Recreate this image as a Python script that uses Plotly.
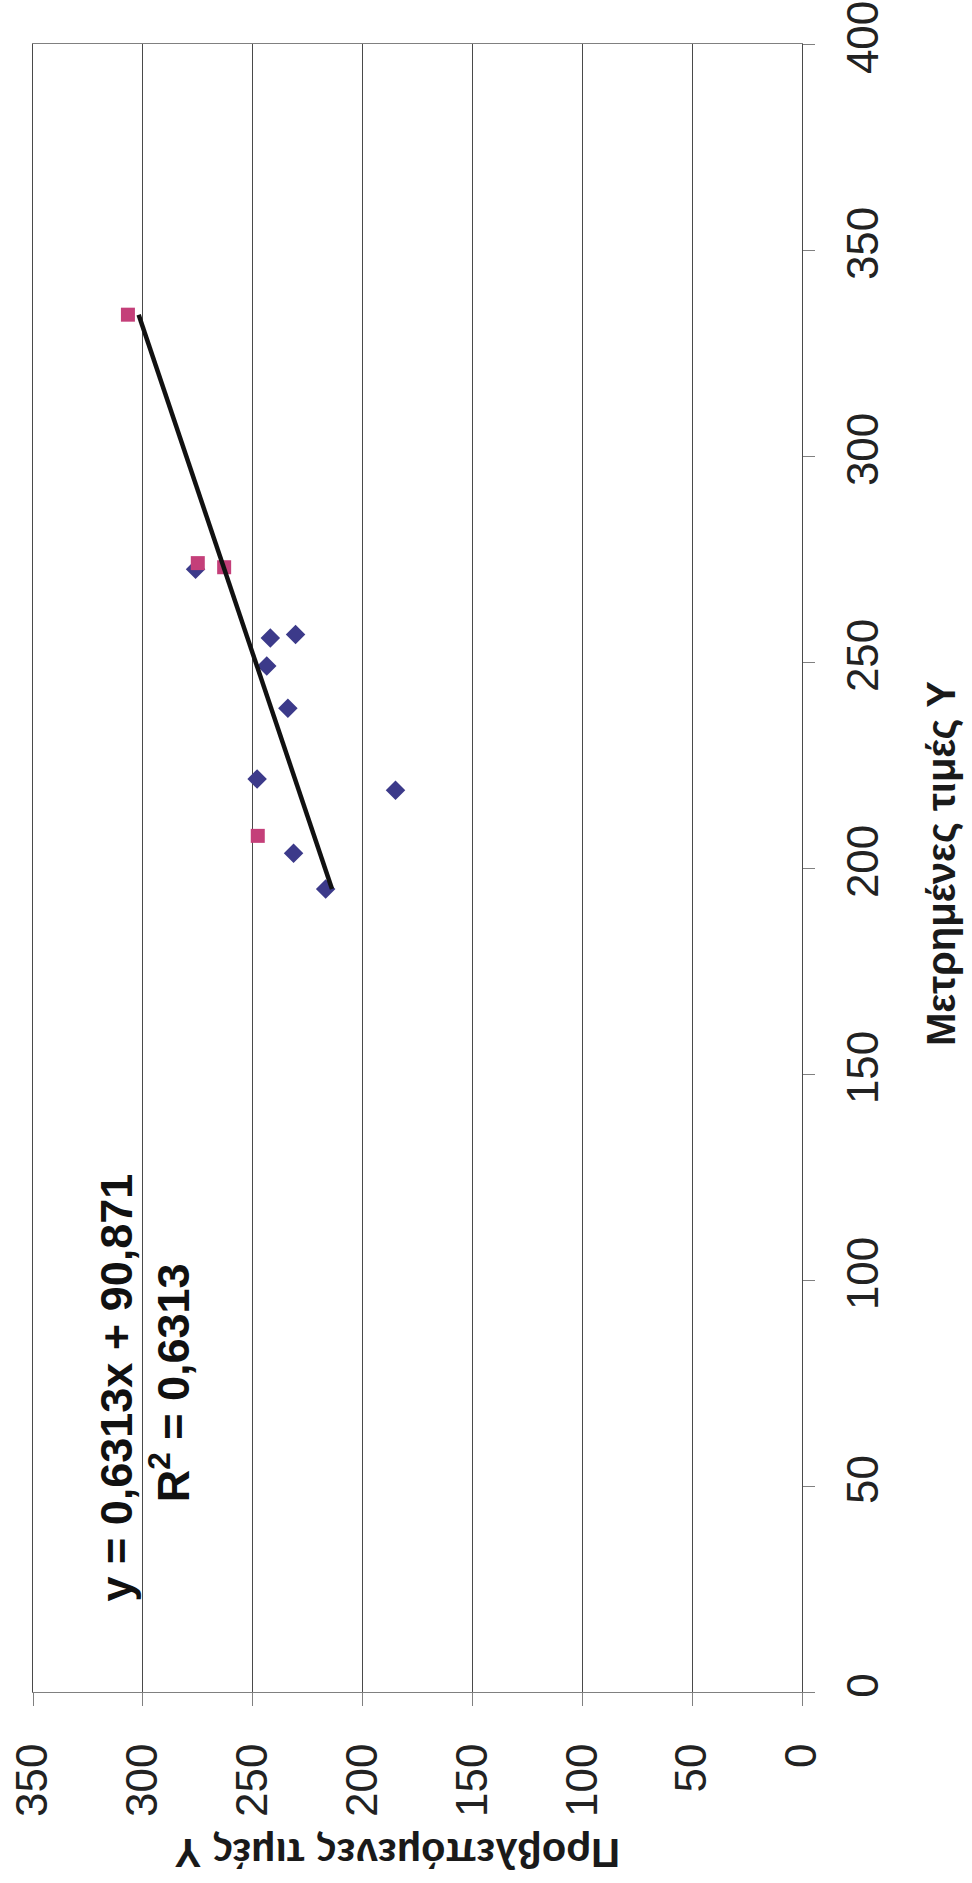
import plotly.graph_objects as go

# Measured vs predicted Y values (two groups of samples)
measured_fit = [272.5, 255.8, 256.7, 249.0, 238.8, 221.6, 218.9, 203.6, 194.9]
predicted_fit = [276.0, 242.0, 230.5, 243.6, 234.0, 248.0, 185.0, 231.4, 216.8]

measured_check = [334.3, 274.0, 273.0, 207.8]
predicted_check = [306.8, 275.0, 263.0, 247.7]

# Linear trendline stated on the chart: y = 0,6313x + 90,871
slope = 0.6313
intercept = 90.871
r_squared = 0.6313

x_ticks = [0, 50, 100, 150, 200, 250, 300, 350]
y_ticks = [0, 50, 100, 150, 200, 250, 300, 350, 400]

all_measured = measured_fit + measured_check
trend_meas = [min(all_measured), max(all_measured)]
trend_pred = [slope * m + intercept for m in trend_meas]

fig = go.Figure()

# The chart is drawn turned a quarter turn: predicted values run along the
# horizontal axis (right to left), measured values up the right-hand axis.
fig.add_trace(go.Scatter(
    x=predicted_fit, y=measured_fit, mode="markers",
    marker=dict(symbol="diamond", size=15, color="#3c3a8a"),
    showlegend=False, cliponaxis=False,
))
fig.add_trace(go.Scatter(
    x=predicted_check, y=measured_check, mode="markers",
    marker=dict(symbol="square", size=14, color="#c43f79"),
    showlegend=False, cliponaxis=False,
))
fig.add_trace(go.Scatter(
    x=trend_pred, y=trend_meas, mode="lines",
    line=dict(color="#111111", width=4.5),
    showlegend=False,
))

tick_font = dict(family="Liberation Sans, Arial, sans-serif", size=44, color="#222222")
title_font = dict(family="Liberation Sans, Arial, sans-serif", size=40, color="#1a1a1a")
eq_font = dict(family="Liberation Sans, Arial, sans-serif", size=45, color="#111111")

fig.update_layout(
    width=972, height=1883,
    margin=dict(l=33, r=170, t=44, b=191),
    paper_bgcolor="white", plot_bgcolor="white",
    xaxis=dict(
        range=[350, 0], tickvals=x_ticks, ticktext=[str(v) for v in x_ticks],
        tickangle=-90, tickfont=tick_font, automargin=False,
        showgrid=True, gridcolor="#4a4a4a", gridwidth=1,
        showline=True, linecolor="#808080", linewidth=1, mirror=True,
        ticks="outside", ticklen=13, tickcolor="#808080",
        ticklabelstandoff=20, zeroline=False,
    ),
    yaxis=dict(
        range=[0, 400], tickvals=y_ticks, ticktext=[str(v) for v in y_ticks],
        side="right", tickangle=-90, tickfont=tick_font, automargin=False,
        showgrid=False,
        showline=True, linecolor="#4a4a4a", linewidth=1, mirror=True,
        ticks="outside", ticklen=12, tickcolor="#808080",
        ticklabelstandoff=10, zeroline=False,
    ),
    annotations=[
        dict(text="<b>Μετρημένες τιμές Y</b>", xref="paper", yref="paper",
             x=1.1808, y=0.5024, textangle=-90, showarrow=False,
             xanchor="center", yanchor="middle", font=title_font),
        dict(text="<b>Προβλεπόμενες τιμές Y</b>", xref="paper", yref="paper",
             x=0.4733, y=-0.0977, textangle=180, showarrow=False,
             xanchor="center", yanchor="middle", font=title_font),
        dict(text="<b>y = 0,6313x + 90,871</b>", xref="x", yref="y",
             x=312, y=74, textangle=-90, showarrow=False,
             xanchor="center", yanchor="middle", font=eq_font),
        dict(text="<b>R<sup>2</sup> = 0,6313</b>", xref="x", yref="y",
             x=287.5, y=75, textangle=-90, showarrow=False,
             xanchor="center", yanchor="middle", font=eq_font),
    ],
)

fig.write_html("out.html")
